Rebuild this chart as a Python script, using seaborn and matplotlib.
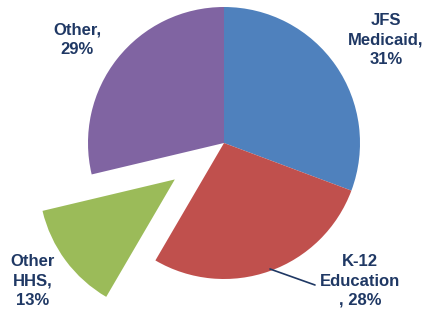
import matplotlib
matplotlib.use("Agg")
import matplotlib.pyplot as plt
import seaborn as sns

categories = ["JFS\nMedicaid,", "K-12\nEducation\n,", "Other\nHHS,", "Other,"]
values = [31, 28, 13, 29]
pct_labels = ["31%", "28%", "13%", "29%"]
colors = ["#4F81BD", "#C0504D", "#9BBB59", "#8064A2"]
explode = [0, 0, 0.45, 0]

sns.set_theme(style="white")
plt.rcParams['font.family'] = ['Liberation Sans', 'DejaVu Sans']

W, H = 426, 316
cx, cy, R = 224, 143, 136

fig = plt.figure(figsize=(W / 100, H / 100), dpi=100)
ax = fig.add_axes([0, 0, 1, 1])
palette = sns.color_palette(colors)
ax.pie(values, colors=palette, startangle=90, counterclock=False,
       explode=explode, radius=1,
       wedgeprops=dict(linewidth=0, antialiased=True))
ax.set_xlim(-cx / R, (W - cx) / R)
ax.set_ylim(-(H - cy) / R, cy / R)
ax.set_aspect('equal')
ax.axis('off')

def px(x, y):
    return (x - cx) / R, (cy - y) / R

label_pos = [(386, 40), (360, 281), (33, 281), (77, 40)]
txt = ["JFS\nMedicaid,\n31%", "K-12\nEducation\n, 28%", "Other\nHHS,\n13%", "Other,\n29%"]
for (x, y), t in zip(label_pos, txt):
    X, Y = px(x, y)
    ax.text(X, Y, t, ha='center', va='center', fontsize=12, fontweight='bold',
            color='#1F3864', linespacing=1.35)

# leader line for K-12
x0, y0 = px(270, 269)
x1, y1 = px(315, 285)
ax.plot([x0, x1], [y0, y1], color='#1F3864', lw=1.2)

fig.savefig("out.png", dpi=100)
